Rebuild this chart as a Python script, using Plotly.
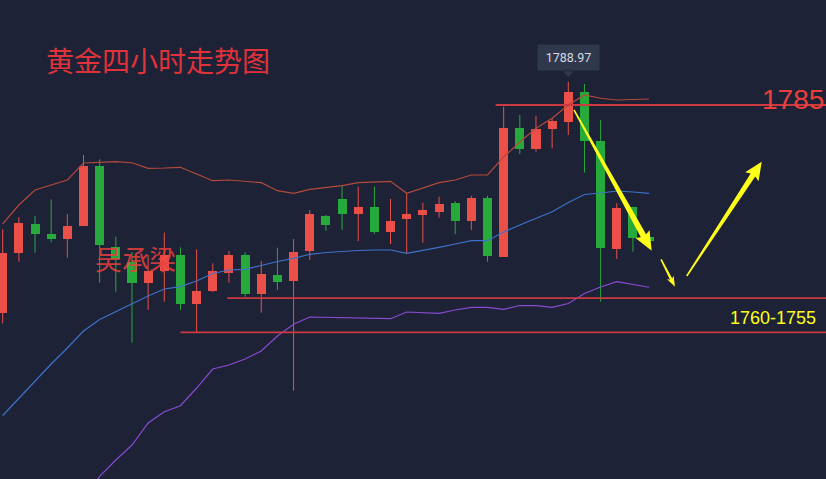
import math
import plotly.graph_objects as go

W, H = 826, 479

# ---------------- data ----------------
opens = [1750.38, 1760.48, 1765.27, 1763.60, 1762.82, 1764.98, 1774.93, 1761.38, 1758.98, 1755.48,
         1757.48, 1760.10, 1751.93, 1754.10, 1757.15, 1760.10, 1753.60, 1756.77, 1755.77, 1760.82,
         1766.60, 1769.43, 1766.93, 1768.10, 1763.93, 1766.10, 1766.77, 1767.27, 1768.82, 1765.77,
         1769.65, 1759.82, 1781.22, 1777.72, 1781.10, 1782.32, 1787.32, 1779.10, 1761.10, 1768.15,
         1763.05]
highs = [1764.38, 1766.38, 1766.60, 1769.38, 1766.93, 1776.77, 1776.05, 1763.15, 1760.60, 1760.10,
         1763.82, 1761.38, 1761.05, 1758.72, 1760.77, 1760.55, 1759.10, 1761.32, 1762.77, 1767.60,
         1766.77, 1771.77, 1771.48, 1771.48, 1769.43, 1770.38, 1768.82, 1769.82, 1769.10, 1769.98,
         1769.98, 1784.82, 1783.43, 1783.27, 1782.93, 1788.97, 1788.60, 1782.60, 1768.72, 1768.15,
         1763.10]
lows = [1748.72, 1758.98, 1760.48, 1762.22, 1759.65, 1764.98, 1755.48, 1753.98, 1745.48, 1750.93,
        1752.32, 1750.93, 1747.22, 1753.93, 1755.48, 1753.15, 1750.48, 1754.27, 1737.48, 1759.27,
        1764.15, 1764.27, 1762.43, 1763.60, 1761.93, 1760.38, 1762.15, 1766.32, 1763.60, 1764.27,
        1758.98, 1759.82, 1776.93, 1777.32, 1777.88, 1780.10, 1773.82, 1752.32, 1759.43, 1760.65,
        1762.40]
closes = [1760.38, 1765.38, 1763.60, 1762.77, 1764.93, 1774.93, 1761.72, 1759.38, 1755.48, 1757.43,
          1760.10, 1751.93, 1754.10, 1757.48, 1760.10, 1753.55, 1756.93, 1755.65, 1760.65, 1766.93,
          1765.10, 1766.93, 1768.10, 1763.93, 1765.77, 1766.93, 1767.60, 1768.60, 1765.77, 1769.65,
          1759.93, 1781.32, 1777.72, 1781.05, 1782.43, 1787.32, 1779.15, 1761.32, 1767.98, 1762.88,
          1762.48]

upper_band = [1765.27, 1768.43, 1770.93, 1771.77, 1772.60, 1775.43, 1775.48, 1775.65, 1775.48, 1774.55,
              1774.60, 1774.72, 1773.60, 1772.48, 1772.60, 1772.35, 1772.15, 1770.82, 1770.38, 1771.05,
              1771.35, 1771.65, 1772.15, 1772.27, 1772.38, 1770.38, 1771.22, 1772.15, 1772.60, 1773.43,
              1773.43, 1776.43, 1778.93, 1781.22, 1782.88, 1785.10, 1786.77, 1786.22, 1785.93, 1786.02,
              1786.10]
middle_band = [1733.35, 1736.27, 1739.10, 1741.93, 1744.60, 1747.43, 1749.35, 1750.68, 1751.93, 1753.27,
               1754.43, 1754.82, 1755.77, 1757.02, 1757.60, 1757.72, 1758.35, 1759.02, 1759.55, 1760.22,
               1760.52, 1760.72, 1760.85, 1760.93, 1760.93, 1760.38, 1760.82, 1761.38, 1761.93, 1762.48,
               1762.48, 1763.93, 1765.10, 1766.18, 1767.32, 1768.85, 1770.18, 1770.43, 1770.77, 1770.60,
               1770.38]
lower_band = [1701.43, 1704.10, 1707.27, 1712.10, 1716.60, 1719.43, 1723.22, 1725.93, 1728.43, 1732.10,
              1733.98, 1734.98, 1737.93, 1741.10, 1741.77, 1742.77, 1744.10, 1746.60, 1748.55, 1749.77,
              1749.72, 1749.68, 1749.52, 1749.48, 1749.48, 1750.60, 1750.48, 1750.38, 1750.93, 1751.38,
              1751.38, 1751.05, 1751.68, 1751.65, 1751.38, 1752.02, 1753.68, 1754.77, 1755.65, 1755.18,
              1754.72]

levels = [1785.1, 1752.9, 1747.2]
level_start = [30.5, 13.9, 11.0]

peak_index = 35
peak_label = "1788.97"

title_text = "黄金四小时走势图"
author_text = "吴承梁"
resist_text = "1785"
support_text = "1760-1755"

arrow_tails = [(35.35, 1784.27), (40.74, 1759.38), (42.33, 1756.60)]
arrow_tips = [(40.16, 1760.82), (41.60, 1754.82), (46.97, 1775.65)]

# ---------------- styling ----------------
BG = "#1d2236"
RED = "#eb5048"
GREEN = "#27aa3c"
LINE_RED = "#cc3a40"
YELLOW = "#ffff1a"

x_range = [-2.7 / 16.16, (W - 2.7) / 16.16]
y_range = [1802.6 - H / 6.0, 1802.6]


def to_px(x, y):
    return ((x - x_range[0]) / (x_range[1] - x_range[0]) * W,
            (y_range[1] - y) / (y_range[1] - y_range[0]) * H)


def to_data(px, py):
    return (x_range[0] + px / W * (x_range[1] - x_range[0]),
            y_range[1] - py / H * (y_range[1] - y_range[0]))


def path_from_px(points):
    pts = [to_data(px, py) for px, py in points]
    return "M " + " L ".join(f"{x:.4f},{y:.4f}" for x, y in pts) + " Z"


def arrow_path(tail, tip, tw, sw, hw, hl):
    tx, ty = to_px(*tail)
    px, py = to_px(*tip)
    dx, dy = px - tx, py - ty
    L = math.hypot(dx, dy)
    ux, uy = dx / L, dy / L
    nx, ny = -uy, ux
    bx, by = px - ux * hl, py - uy * hl
    pts = [
        (tx + nx * tw / 2, ty + ny * tw / 2),
        (bx + nx * sw / 2, by + ny * sw / 2),
        (bx + nx * hw / 2 - ux * 2, by + ny * hw / 2 - uy * 2),
        (px, py),
        (bx - nx * hw / 2 - ux * 2, by - ny * hw / 2 - uy * 2),
        (bx - nx * sw / 2, by - ny * sw / 2),
        (tx - nx * tw / 2, ty - ny * tw / 2),
    ]
    return path_from_px(pts)


idx = list(range(len(opens)))
up = [c >= o for o, c in zip(opens, closes)]
colors = [RED if u else GREEN for u in up]

fig = go.Figure()

# wicks
for flag, col in ((True, RED), (False, GREEN)):
    xs, ys = [], []
    for i in idx:
        if up[i] == flag:
            xs += [i, i, None]
            ys += [lows[i], highs[i], None]
    fig.add_trace(go.Scatter(x=xs, y=ys, mode="lines", line=dict(color=col, width=1),
                             hoverinfo="skip", showlegend=False))

# bodies
fig.add_trace(go.Bar(
    x=idx,
    y=[max(abs(c - o), 0.25) for o, c in zip(opens, closes)],
    base=[min(o, c) for o, c in zip(opens, closes)],
    width=0.56,
    marker=dict(color=colors, line=dict(width=0)),
    showlegend=False, hoverinfo="skip",
))

# Bollinger bands
for vals, col in ((upper_band, "#b44a3c"), (middle_band, "#3e72c9"), (lower_band, "#8a4ad2")):
    fig.add_trace(go.Scatter(x=idx, y=vals, mode="lines", line=dict(color=col, width=1.2),
                             hoverinfo="skip", showlegend=False))

shapes = []
for lv, st in zip(levels, level_start):
    shapes.append(dict(type="line", xref="x", yref="y", x0=st, x1=x_range[1] + 1, y0=lv, y1=lv,
                       line=dict(color=LINE_RED, width=1.8), layer="above"))

arrow_dims = [(1.5, 6.0, 16.0, 17.0), (1.5, 2.5, 7.5, 8.5), (1.5, 5.5, 16.0, 16.0)]
for tail, tip, dims in zip(arrow_tails, arrow_tips, arrow_dims):
    shapes.append(dict(type="path", xref="x", yref="y", path=arrow_path(tail, tip, *dims),
                       fillcolor=YELLOW, line=dict(width=0), layer="above"))

# tooltip pointer
ppx, ppy = to_px(peak_index, highs[peak_index])
shapes.append(dict(type="path", xref="x", yref="y",
                   path=path_from_px([(ppx - 5.5, ppy - 10.5), (ppx + 5.5, ppy - 10.5), (ppx, ppy - 5)]),
                   fillcolor="#2f384c", line=dict(width=0), layer="above"))

annotations = [
    dict(text=title_text, xref="paper", yref="paper", x=44 / W, y=1 - 59.5 / H,
         xanchor="left", yanchor="middle", showarrow=False,
         font=dict(family="Noto Sans CJK SC", size=28, color="#e0323a")),
    dict(text=author_text, xref="paper", yref="paper", x=93 / W, y=1 - 258.5 / H,
         xanchor="left", yanchor="middle", showarrow=False,
         font=dict(family="Noto Sans CJK SC", size=27, color="rgba(234,64,60,0.85)")),
    dict(text=resist_text, xref="paper", yref="paper", x=826 / W, y=1 - 99.5 / H,
         xanchor="right", yanchor="middle", showarrow=False,
         font=dict(family="Liberation Sans", size=28, color="#ea3f3c")),
    dict(text=support_text, xref="paper", yref="paper", x=818 / W, y=1 - 317.5 / H,
         xanchor="right", yanchor="middle", showarrow=False,
         font=dict(family="Liberation Sans", size=18, color=YELLOW)),
    dict(text=peak_label, xref="x", yref="y", x=peak_index, y=highs[peak_index],
         xanchor="center", yanchor="bottom", yshift=10.5, showarrow=False,
         bgcolor="#2f384c", borderpad=4, width=53, height=17,
         font=dict(family="Roboto", size=12.5, color="#d5d9e2")),
]

fig.update_layout(
    width=W, height=H,
    margin=dict(l=0, r=0, t=0, b=0),
    paper_bgcolor=BG, plot_bgcolor=BG,
    xaxis=dict(range=x_range, visible=False, showgrid=False, zeroline=False),
    yaxis=dict(range=y_range, visible=False, showgrid=False, zeroline=False),
    bargap=0, showlegend=False, hovermode=False,
    shapes=shapes, annotations=annotations,
)

fig.write_html(
    "out.html",
    config={"displayModeBar": False, "staticPlot": True},
    post_script="document.body.style.margin='0';document.body.style.background='" + BG + "';",
)
